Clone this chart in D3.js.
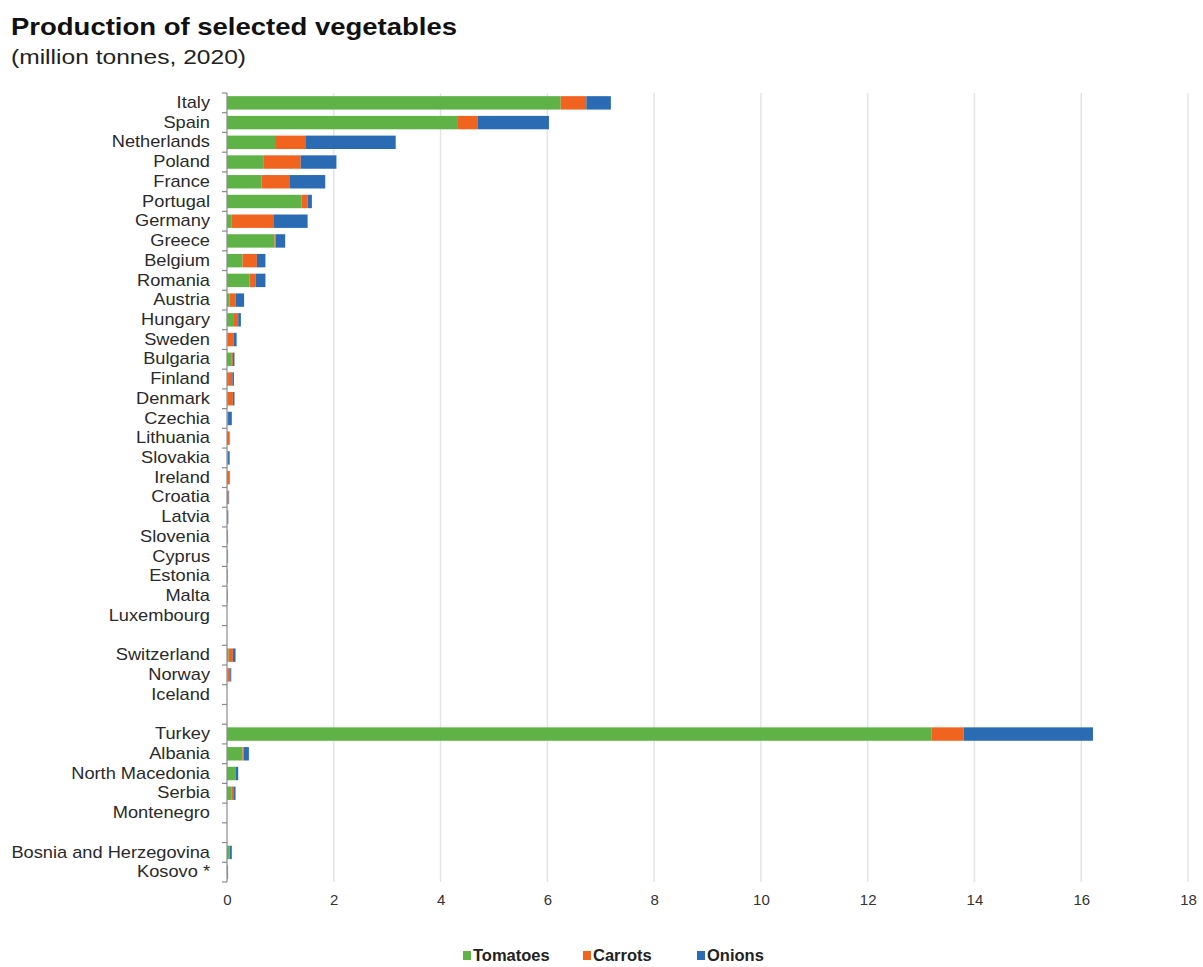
<!DOCTYPE html>
<html>
<head>
<meta charset="utf-8">
<script src="https://cdn.jsdelivr.net/npm/d3@7"></script>
<style>
  html, body { margin: 0; padding: 0; background: #fff; }
  svg { display: block; font-family: "Liberation Sans", Arial, Helvetica, sans-serif; }
</style>
</head>
<body>
<svg id="chart" width="1203" height="967"></svg>
<script>
// Countries in display order; null marks an empty spacer row between groups
const countries = [
  "Italy", "Spain", "Netherlands", "Poland", "France", "Portugal", "Germany",
  "Greece", "Belgium", "Romania", "Austria", "Hungary", "Sweden", "Bulgaria",
  "Finland", "Denmark", "Czechia", "Lithuania", "Slovakia", "Ireland", "Croatia",
  "Latvia", "Slovenia", "Cyprus", "Estonia", "Malta", "Luxembourg",
  null,
  "Switzerland", "Norway", "Iceland",
  null,
  "Turkey", "Albania", "North Macedonia", "Serbia", "Montenegro",
  null,
  "Bosnia and Herzegovina", "Kosovo *"
];

// Production in million tonnes, 2020 (same order as countries)
const tomatoes = [
  6.25, 4.31, 0.90, 0.69, 0.65, 1.40, 0.09,
  0.89, 0.29, 0.42, 0.05, 0.13, 0.01, 0.09,
  0.02, 0.01, 0.01, 0.00, 0.01, 0.00, 0.02,
  0.00, 0.005, 0.01, 0.00, 0.01, 0.00,
  0,
  0.03, 0.01, 0.00,
  0,
  13.20, 0.29, 0.15, 0.08, 0.00,
  0,
  0.04, 0.01
];
const carrots = [
  0.48, 0.38, 0.58, 0.69, 0.53, 0.11, 0.79,
  0.02, 0.27, 0.12, 0.11, 0.08, 0.11, 0.02,
  0.08, 0.10, 0.01, 0.04, 0.01, 0.05, 0.01,
  0.02, 0.005, 0.005, 0.01, 0.00, 0.00,
  0,
  0.08, 0.05, 0.00,
  0,
  0.60, 0.02, 0.01, 0.05, 0.00,
  0,
  0.01, 0.00
];
const onions = [
  0.46, 1.34, 1.68, 0.67, 0.66, 0.08, 0.63,
  0.18, 0.16, 0.18, 0.16, 0.05, 0.06, 0.03,
  0.03, 0.03, 0.07, 0.01, 0.03, 0.004, 0.01,
  0.005, 0.01, 0.005, 0.005, 0.005, 0.00,
  0,
  0.05, 0.02, 0.00,
  0,
  2.42, 0.10, 0.05, 0.03, 0.00,
  0,
  0.04, 0.01
];

const seriesNames = ["Tomatoes", "Carrots", "Onions"];
const seriesColors = ["#5fb246", "#f0641f", "#2a6bb3"];
const xTicks = [0, 2, 4, 6, 8, 10, 12, 14, 16, 18];

const title = "Production of selected vegetables";
const subtitle = "(million tonnes, 2020)";

// Build rows for the stack layout
const rows = countries.map((c, i) => ({
  idx: i, name: c, Tomatoes: tomatoes[i], Carrots: carrots[i], Onions: onions[i]
}));

const svg = d3.select("#chart");

const x = d3.scaleLinear().domain([0, 18]).range([227, 1188]);
const y = d3.scaleBand()
  .domain(d3.range(countries.length))
  .range([93, 882])
  .padding(0);
const barH = y.bandwidth() * 0.68;

// Title block (the type is set slightly wide)
svg.append("text")
  .attr("x", 11).attr("y", 35)
  .attr("font-size", 24.5).attr("font-weight", "bold").attr("fill", "#111")
  .attr("textLength", 446).attr("lengthAdjust", "spacingAndGlyphs")
  .text(title);
svg.append("text")
  .attr("x", 11).attr("y", 64)
  .attr("font-size", 20).attr("fill", "#222")
  .attr("textLength", 235).attr("lengthAdjust", "spacingAndGlyphs")
  .text(subtitle);

// Vertical gridlines
svg.append("g")
  .selectAll("line")
  .data(xTicks.filter(d => d > 0))
  .join("line")
  .attr("x1", d => x(d)).attr("x2", d => x(d))
  .attr("y1", y.range()[0]).attr("y2", y.range()[1])
  .attr("stroke", "#e4e4e4").attr("stroke-width", 1.5);

// Stacked bars
const stack = d3.stack().keys(seriesNames);
const layers = stack(rows);

svg.append("g")
  .selectAll("g")
  .data(layers)
  .join("g")
  .attr("fill", (d, i) => seriesColors[i])
  .selectAll("rect")
  .data(d => d.filter(s => s.data.name !== null && s[1] - s[0] > 0))
  .join("rect")
  .attr("x", d => x(d[0]))
  .attr("width", d => x(d[1]) - x(d[0]))
  .attr("y", d => y(d.data.idx) + (y.bandwidth() - barH) / 2)
  .attr("height", barH);

// Category axis: line, boundary ticks and labels
const axisG = svg.append("g");
axisG.append("line")
  .attr("x1", x(0)).attr("x2", x(0))
  .attr("y1", y.range()[0]).attr("y2", y.range()[1])
  .attr("stroke", "#8a8a8a").attr("stroke-width", 1.2);
const boundaries = d3.range(countries.length + 1).map(i =>
  i < countries.length ? y(i) : y.range()[1]);
axisG.selectAll("line.tick")
  .data(boundaries)
  .join("line")
  .attr("class", "tick")
  .attr("x1", x(0) - 5).attr("x2", x(0))
  .attr("y1", d => d).attr("y2", d => d)
  .attr("stroke", "#8a8a8a").attr("stroke-width", 1.2);

const yAxis = d3.axisLeft(y)
  .tickSize(0)
  .tickPadding(16)
  .tickFormat(i => countries[i] === null ? "" : countries[i]);
const yAxisG = svg.append("g")
  .attr("transform", `translate(${x(0)},0)`)
  .call(yAxis);
yAxisG.select(".domain").remove();
yAxisG.selectAll("text")
  .attr("x", 0)
  .attr("transform", "translate(-17,0) scale(1.14,1)")
  .attr("font-family", "'Liberation Sans', Arial, sans-serif")
  .attr("font-size", 16)
  .attr("fill", "#2a2a2a");

// Value axis labels
const xAxis = d3.axisBottom(x)
  .tickValues(xTicks)
  .tickSize(0)
  .tickPadding(12)
  .tickFormat(d3.format("d"));
const xAxisG = svg.append("g")
  .attr("transform", `translate(0,${y.range()[1]})`)
  .call(xAxis);
xAxisG.select(".domain").remove();
xAxisG.selectAll("text")
  .attr("font-family", "'Liberation Sans', Arial, sans-serif")
  .attr("font-size", 15)
  .attr("fill", "#333");

// Legend
const legendX = [463, 583, 697];
const legend = svg.append("g").attr("transform", "translate(0,961)");
const items = legend.selectAll("g")
  .data(seriesNames)
  .join("g")
  .attr("transform", (d, i) => `translate(${legendX[i]},0)`);
items.append("rect")
  .attr("x", 0).attr("y", -10)
  .attr("width", 8).attr("height", 9)
  .attr("fill", (d, i) => seriesColors[i]);
items.append("text")
  .attr("x", 10).attr("y", 0)
  .attr("font-family", "'Liberation Sans', Arial, sans-serif")
  .attr("font-weight", "bold")
  .attr("font-size", 16.5)
  .attr("fill", "#222")
  .text(d => d);
</script>
</body>
</html>
